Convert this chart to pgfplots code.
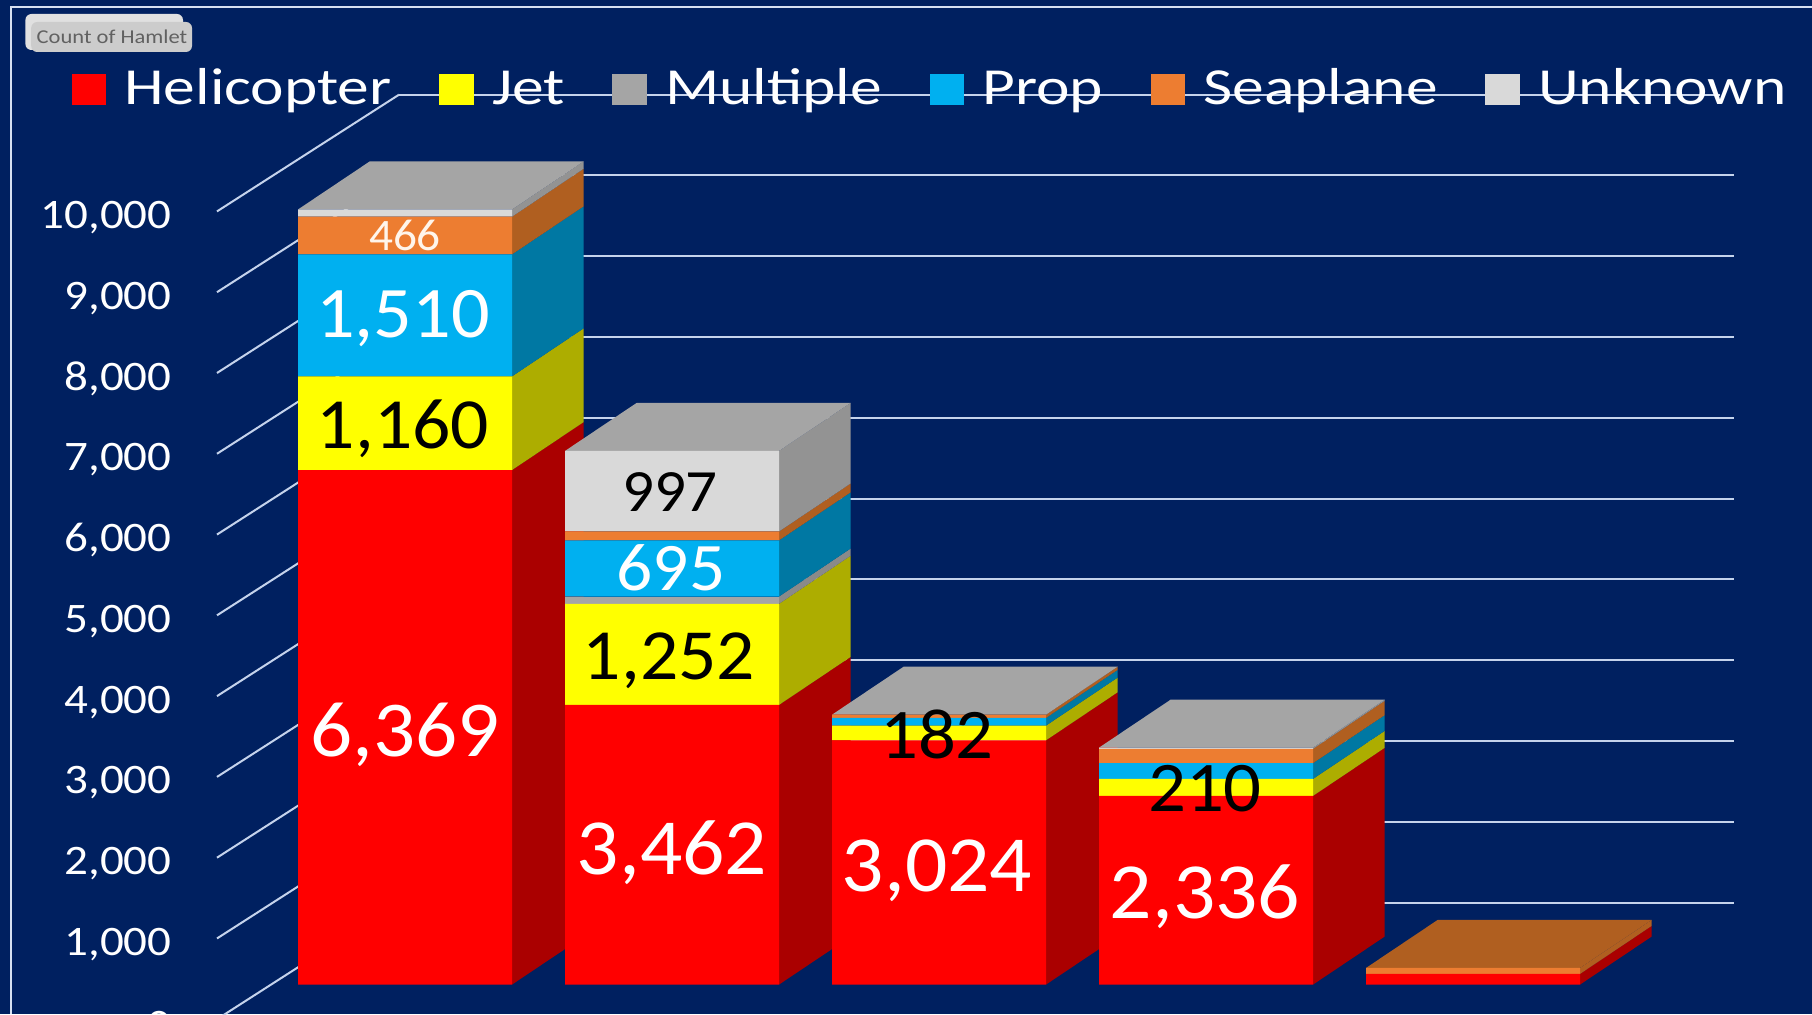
\documentclass[border=0pt]{standalone}
\usepackage{pgfplots}
\usepackage{pgfplotstable}
\pgfplotsset{compat=1.18}
\usepackage{fontspec}
\setmainfont{Carlito}
\newfontfamily\legfont[FakeStretch=1.22]{Carlito}
\newfontfamily\tickfont[FakeStretch=1.12]{Carlito}
\newfontfamily\btnfont[FakeStretch=1.15]{Carlito}
\newfontfamily\labfont[FakeStretch=1.05]{Carlito}
\definecolor{bg}{HTML}{002060}
\definecolor{gridc}{HTML}{C5D3EC}
\definecolor{frontH}{HTML}{FF0000}\definecolor{sideH}{HTML}{AA0000}
\definecolor{frontJ}{HTML}{FFFF00}\definecolor{sideJ}{HTML}{ADAD00}
\definecolor{frontM}{HTML}{A5A5A5}\definecolor{sideM}{HTML}{8A8A8A}
\definecolor{frontP}{HTML}{00B0F0}\definecolor{sideP}{HTML}{0078A3}
\definecolor{frontS}{HTML}{ED7D31}\definecolor{sideS}{HTML}{B05F20}
\definecolor{frontU}{HTML}{D9D9D9}\definecolor{sideU}{HTML}{939393}
\pgfplotstableread{
x    Helicopter Jet  Multiple Prop Seaplane Unknown
405  6369       1160 0        1510 466      90
672  3462       1252 90       695  110      997
939  3024       182  0        95   40       0
1206 2336       210  0        195  177      15
1473 132        0    0        0    74       0
}\datatable
\pgfplotsset{base/.style={
  at={(0,0)},anchor=south west,scale only axis,width=906pt,height=507pt,
  xmin=0,xmax=1812,ymin=-364,ymax=12188,clip=false}}
% side face of one stack segment: right edge x, lower and upper value, colour
\newcommand\sideface[4]{%
  \pgfmathsetmacro\xb{#1+71.6}\pgfmathsetmacro\ya{#2+594}\pgfmathsetmacro\yb{#3+594}%
  \addplot[fill=#4,draw=none,forget plot] coordinates {(#1,#2) (\xb,\ya) (\xb,\yb) (#1,#3)} --cycle;}
\newcommand\topface[3]{%
  \pgfmathsetmacro\xb{#1+214}\pgfmathsetmacro\xc{#1+285.6}\pgfmathsetmacro\xd{#1+71.6}\pgfmathsetmacro\ya{#2+594}%
  \addplot[fill=#3,draw=none,forget plot] coordinates {(#1,#2) (\xb,#2) (\xc,\ya) (\xd,\ya)} --cycle;}
\newcommand\lab[5]{\node[text=#4,font=\labfont\fontsize{#5}{#5}\selectfont,inner sep=0pt] at (axis cs:#1,#2) {#3};}
\begin{document}
\begin{tikzpicture}[x=1pt,y=1pt]
\useasboundingbox (0,0) rectangle (906,507);
\clip (0,0) rectangle (906,507);
\fill[bg] (0,0) rectangle (906,507);
% ---------- back: frame, walls, side and top faces
\begin{axis}[base,hide axis]
\addplot[draw=gridc!70!white,line width=0.9pt,forget plot] coordinates {(11,-364) (11,12102) (1812,12102)};
\pgfplotsinvokeforeach{1016,2016,3016,4016,5016,6016,7016,8016,9016,10016}{
  \addplot[draw=gridc,line width=1pt,forget plot] coordinates {(399,#1) (1734,#1)};}
\addplot[draw=gridc,line width=1pt,forget plot] coordinates {(399,11016) (1720,11016)};
\addplot[draw=gridc,line width=1pt,forget plot] coordinates {(217,-429) (399,1016)};
\addplot[draw=gridc,line width=1pt,forget plot] coordinates {(217,571) (399,2016)};
\addplot[draw=gridc,line width=1pt,forget plot] coordinates {(217,1571) (399,3016)};
\addplot[draw=gridc,line width=1pt,forget plot] coordinates {(217,2571) (399,4016)};
\addplot[draw=gridc,line width=1pt,forget plot] coordinates {(217,3571) (399,5016)};
\addplot[draw=gridc,line width=1pt,forget plot] coordinates {(217,4571) (399,6016)};
\addplot[draw=gridc,line width=1pt,forget plot] coordinates {(217,5571) (399,7016)};
\addplot[draw=gridc,line width=1pt,forget plot] coordinates {(217,6571) (399,8016)};
\addplot[draw=gridc,line width=1pt,forget plot] coordinates {(217,7571) (399,9016)};
\addplot[draw=gridc,line width=1pt,forget plot] coordinates {(217,8571) (399,10016)};
\addplot[draw=gridc,line width=1pt,forget plot] coordinates {(217,9571) (399,11016)};
% bar 1
\sideface{512}{0}{6369}{sideH}\sideface{512}{6369}{7529}{sideJ}\sideface{512}{7529}{9039}{sideP}
\sideface{512}{9039}{9505}{sideS}\sideface{512}{9505}{9595}{sideU}
\topface{298}{9595}{frontM}
% bar 2
\sideface{779}{0}{3462}{sideH}\sideface{779}{3462}{4714}{sideJ}\sideface{779}{4714}{4804}{sideM}
\sideface{779}{4804}{5499}{sideP}\sideface{779}{5499}{5609}{sideS}\sideface{779}{5609}{6606}{sideU}
\topface{565}{6606}{frontM}
% bar 3
\sideface{1046}{0}{3024}{sideH}\sideface{1046}{3024}{3206}{sideJ}\sideface{1046}{3206}{3301}{sideP}
\sideface{1046}{3301}{3341}{sideS}
\topface{832}{3341}{frontM}
% bar 4
\sideface{1313}{0}{2336}{sideH}\sideface{1313}{2336}{2546}{sideJ}\sideface{1313}{2546}{2741}{sideP}
\sideface{1313}{2741}{2918}{sideS}\sideface{1313}{2918}{2933}{sideU}
\topface{1099}{2933}{frontM}
% bar 5
\sideface{1580}{0}{132}{sideH}\sideface{1580}{132}{206}{sideS}
\topface{1366}{206}{sideS}
\end{axis}
% ---------- front: stacked bars, ticks, legend
\begin{axis}[base,
  ybar stacked,bar width=107pt,bar shift=0pt,
  axis line style={draw=none},tick style={draw=none},
  axis x line=none,
  axis y line*=left,
  scaled y ticks=false,
  ytick={0,1000,2000,3000,4000,5000,6000,7000,8000,9000,10000},
  yticklabels={0,{1,000},{2,000},{3,000},{4,000},{5,000},{6,000},{7,000},{8,000},{9,000},{10,000}},
  yticklabel style={text=white,font=\tickfont\fontsize{21}{21}\selectfont,xshift=86pt,yshift=-20.3pt,inner sep=0pt},
  legend columns=6,
  legend cell align=left,
  legend image code/.code={\fill[#1] (0pt,-6.3pt) rectangle (17.3pt,9.3pt);},
  legend style={at={(0.0395,0.9088)},anchor=west,draw=none,fill=none,inner sep=0pt,outer sep=0pt,
    text=white,font=\legfont\fontsize{26}{26}\selectfont,
    nodes={text height=18pt,text depth=6pt},
    /tikz/every even column/.append style={column sep=21.8pt},
    /tikz/every odd column/.append style={column sep=7.1pt}},
]
\addplot[fill=frontH,draw=none] table[x=x,y=Helicopter]{\datatable};\addlegendentry{Helicopter}
\addplot[fill=frontJ,draw=none] table[x=x,y=Jet]{\datatable};\addlegendentry{Jet}
\addplot[fill=frontM,draw=none] table[x=x,y=Multiple]{\datatable};\addlegendentry{Multiple}
\addplot[fill=frontP,draw=none] table[x=x,y=Prop]{\datatable};\addlegendentry{Prop}
\addplot[fill=frontS,draw=none] table[x=x,y=Seaplane]{\datatable};\addlegendentry{Seaplane}
\addplot[fill=frontU,draw=none] table[x=x,y=Unknown]{\datatable};\addlegendentry{Unknown}
\end{axis}
% ---------- data labels, above the bars
\begin{axis}[base,hide axis]
\lab{405}{3090}{6,369}{white}{39.6}
\lab{403}{6886}{1,160}{black}{36}
\lab{403}{8240}{1,510}{white}{36.3}
\lab{405}{9272}{466}{white!92!orange}{22.5}
\lab{672}{1637}{3,462}{white}{39.8}
\lab{669}{4008}{1,252}{black}{36}
\lab{671}{5160}{695}{white}{34}
\lab{670}{6100}{997}{black}{30}
\lab{937}{1408}{3,024}{white}{39.8}
\lab{937}{3100}{182}{black}{35.6}
\lab{1205}{1087}{2,336}{white}{39.8}
\lab{1205}{2420}{210}{black}{35.6}
\end{axis}
% ---------- field button (PivotChart)
\fill[rounded corners=3pt,fill=black!12] (12.7,482) rectangle (91.5,500);
\fill[rounded corners=3pt,fill=black!20] (15.6,481) rectangle (96,496);
\node[anchor=center,text=black!62,font=\btnfont\fontsize{9.8}{9.8}\selectfont,inner sep=0pt] at (56,488.5) {Count of Hamlet};
\end{tikzpicture}
\end{document}
